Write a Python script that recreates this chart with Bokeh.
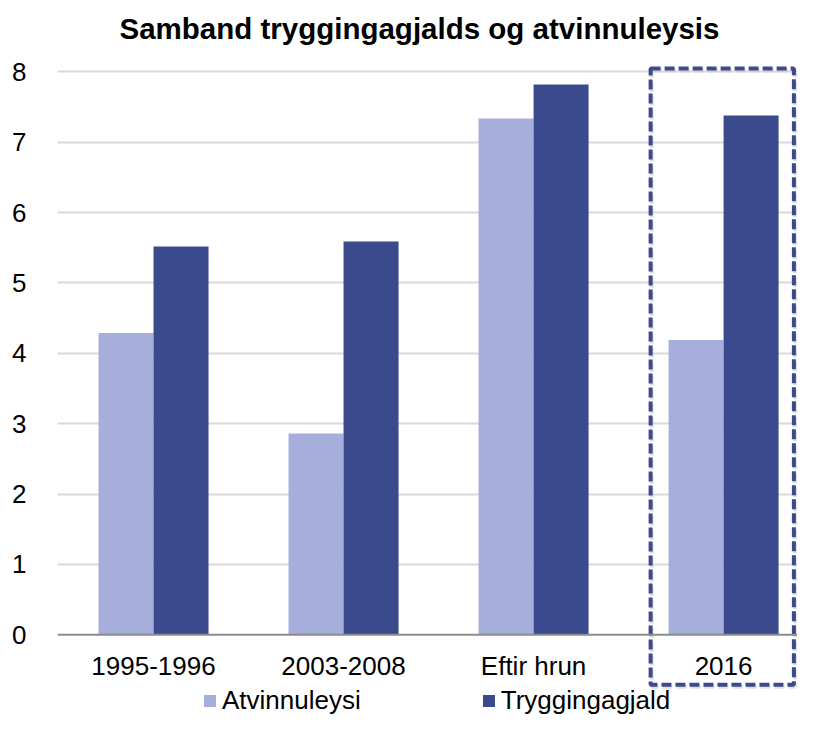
from bokeh.plotting import figure
from bokeh.models import Range1d, FixedTicker, Span, Legend, LegendItem, ColumnDataSource
from bokeh.transform import dodge
from bokeh.core.properties import value
from bokeh.embed import file_html
from bokeh.resources import INLINE

# ---- data ----
categories = ["1995-1996", "2003-2008", "Eftir hrun", "2016"]
atvinnuleysi = [4.29, 2.86, 7.34, 4.19]
tryggingagjald = [5.52, 5.59, 7.82, 7.38]
series_names = ["Atvinnuleysi", "Tryggingagjald"]
y_ticks = [0, 1, 2, 3, 4, 5, 6, 7, 8]
highlight = "2016"

LIGHT = "#A6AEDB"
DARK = "#3B4A8C"
FONT = "Liberation Sans"

idx = list(range(len(categories)))
src = ColumnDataSource(dict(x=idx, cat=categories, a=atvinnuleysi, t=tryggingagjald,
                            ly=[-0.44] * len(idx)))

p = figure(width=797, height=716, output_backend="svg", toolbar_location=None,
           x_range=Range1d(-0.5053, 3.389), y_range=Range1d(-1.162, 8.248),
           min_border_left=57, min_border_right=0, min_border_top=52, min_border_bottom=0)
p.outline_line_color = None
p.background_fill_color = "white"
p.border_fill_color = "white"

# title
p.title.text = "Samband tryggingagjalds og atvinnuleysis"
p.title.text_font = FONT
p.title.text_font_style = "bold"
p.title.text_font_size = "29.5px"
p.title.text_color = "black"
p.title.align = "left"
p.title.offset = 62
p.title.standoff = 19

# axes
p.xaxis.visible = False
p.xgrid.visible = False
p.yaxis.ticker = FixedTicker(ticks=y_ticks)
p.yaxis.axis_line_color = None
p.yaxis.major_tick_line_color = None
p.yaxis.minor_tick_line_color = None
p.yaxis.major_label_text_font = FONT
p.yaxis.major_label_text_font_size = "26px"
p.yaxis.major_label_text_color = "black"
p.yaxis.major_label_standoff = 25
p.ygrid.ticker = FixedTicker(ticks=y_ticks[1:])
p.ygrid.grid_line_color = "#D9D9D9"
p.ygrid.grid_line_width = 2

bw = 0.2895
r1 = p.vbar(x=dodge("x", -bw / 2, range=p.x_range), top="a", width=bw, source=src,
            fill_color=LIGHT, line_color=None)
r2 = p.vbar(x=dodge("x", bw / 2, range=p.x_range), top="t", width=bw, source=src,
            fill_color=DARK, line_color=None)

p.add_layout(Span(location=0, dimension="width", line_color="#8C8C8C", line_width=2))

# category labels
p.text(x="x", y="ly", text="cat", source=src, text_font=value(FONT),
       text_font_size="26px", text_align="center", text_baseline="middle",
       text_color="black")

# highlight box (soft shadow + dashed outline)
hi = categories.index(highlight)
p.quad(left=[hi - 0.378], right=[hi + 0.376], bottom=[-0.74], top=[8.02],
       fill_color=None, line_color="#BFBFBF", line_alpha=0.5, line_width=4, line_dash="10 4")
p.quad(left=[hi - 0.384], right=[hi + 0.37], bottom=[-0.71], top=[8.05],
       fill_color=None, line_color=DARK, line_width=4, line_dash="10 4")

legend = Legend(items=[LegendItem(label=series_names[0], renderers=[r1]),
                       LegendItem(label=series_names[1], renderers=[r2])],
                location=(145, 0), orientation="horizontal", padding=0, margin=0,
                spacing=120, glyph_width=15, glyph_height=15, label_standoff=5,
                label_text_font=FONT, label_text_font_size="26px",
                label_text_color="black", border_line_color=None,
                background_fill_alpha=0)
p.add_layout(legend)

open("out.html", "w").write(file_html(p, INLINE))
